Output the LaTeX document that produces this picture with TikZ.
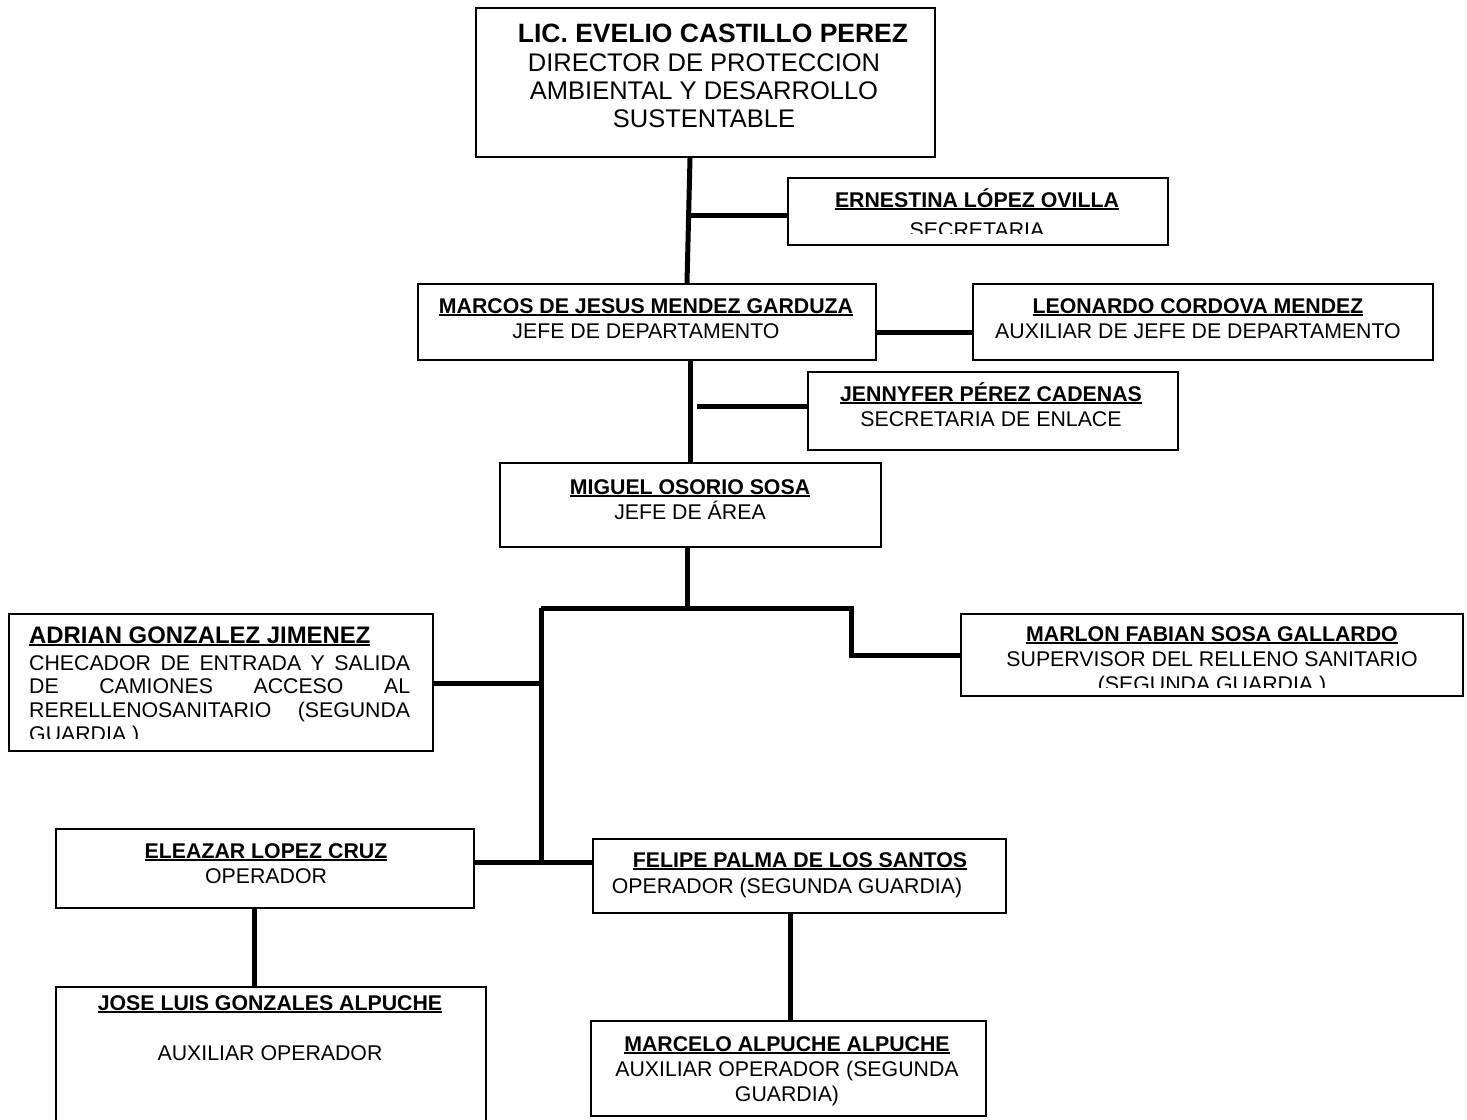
\documentclass[tikz,border=0pt]{standalone}
\usepackage{fontspec}
\setmainfont{Liberation Sans}
\usetikzlibrary{calc}
\newcommand\myul[1]{\leavevmode\setbox0\hbox{#1}\rlap{\rule[-3pt]{\wd0}{2pt}}\box0}
\newcommand\bodyfnt{\fontsize{21.3}{25}\selectfont}
\newcommand\bigfnt{\fontsize{25.5}{28}\selectfont}
\newcommand\titlefnt{\fontsize{26.5}{30}\selectfont\bfseries}
\newcommand\adrfnt{\fontsize{23.9}{28}\selectfont\bfseries}
\begin{document}
\begin{tikzpicture}[x=1pt,y=-1pt,
  box/.style={draw, line width=2pt, inner sep=0pt, anchor=north west},
  conn/.style={line width=5pt},
  lbl/.style={anchor=base, inner sep=0pt, font=\bodyfnt},
  nmlbl/.style={anchor=base, inner sep=0pt, font=\bodyfnt\bfseries},
  lbll/.style={anchor=base west, inner sep=0pt, font=\bodyfnt}]
\useasboundingbox (0,0) rectangle (1467,1119);
\fill[white] (0,0) rectangle (1467,1119);

% boxes
\node[box, minimum width=459pt, minimum height=149pt] (top) at (475,7) {};
\node[box, minimum width=380pt, minimum height=67pt] (ern) at (787,177) {};
\node[box, minimum width=458pt, minimum height=76pt] (marcos) at (417,283) {};
\node[box, minimum width=460pt, minimum height=76pt] (leo) at (972,283) {};
\node[box, minimum width=370pt, minimum height=78pt] (jen) at (807,371) {};
\node[box, minimum width=381pt, minimum height=84pt] (mig) at (499,462) {};
\node[box, minimum width=424pt, minimum height=137pt] (adr) at (8,613) {};
\node[box, minimum width=502pt, minimum height=82pt] (mar) at (960,613) {};
\node[box, minimum width=418pt, minimum height=79pt] (ele) at (55,828) {};
\node[box, minimum width=413pt, minimum height=74pt] (fel) at (592,838) {};
\node[box, minimum width=430pt, minimum height=170pt] (jose) at (55,986) {};
\node[box, minimum width=395pt, minimum height=95pt] (marc) at (590,1020) {};

% texts
\node[anchor=base, inner sep=0pt, font=\titlefnt] (t1) at (713,42.5) {LIC. EVELIO CASTILLO PEREZ};
\node[anchor=base, inner sep=0pt, font=\bigfnt] (t2) at (704,71) {DIRECTOR DE PROTECCION};
\node[anchor=base, inner sep=0pt, font=\bigfnt] (t3) at (704,99) {AMBIENTAL Y DESARROLLO};
\node[anchor=base, inner sep=0pt, font=\bigfnt] (t4) at (704,127) {SUSTENTABLE};

\node[nmlbl] (ern1) at (977,207) {\myul{ERNESTINA LÓPEZ OVILLA}};
\begin{scope}
  \clip (787,177) rectangle (1167,233);
  \node[lbl] (ern2) at (977,237) {SECRETARIA};
\end{scope}

\node[nmlbl] (mar1) at (646,313) {\myul{MARCOS DE JESUS MENDEZ GARDUZA}};
\node[lbl] (mar2) at (646,338) {JEFE DE DEPARTAMENTO};

\node[nmlbl] (leo1) at (1198,313) {\myul{LEONARDO CORDOVA MENDEZ}};
\node[lbl] (leo2) at (1198,338) {AUXILIAR DE JEFE DE DEPARTAMENTO};

\node[nmlbl] (jen1) at (991,401) {\myul{JENNYFER PÉREZ CADENAS}};
\node[lbl] (jen2) at (991,426) {SECRETARIA DE ENLACE};

\node[nmlbl] (mig1) at (690,494) {\myul{MIGUEL OSORIO SOSA}};
\node[lbl] (mig2) at (690,519) {JEFE DE ÁREA};

\node[anchor=base west, inner sep=0pt, font=\adrfnt] (adr1) at (29,643) {\myul{ADRIAN GONZALEZ JIMENEZ}};
\node[lbll] (adr2) at (29,670) {\makebox[381pt][s]{CHECADOR DE ENTRADA Y SALIDA}};
\node[lbll] (adr3) at (29,693.5) {\makebox[381pt][s]{DE CAMIONES ACCESO AL}};
\node[lbll] (adr4) at (29,717) {\makebox[381pt][s]{RERELLENOSANITARIO (SEGUNDA}};
\begin{scope}
  \clip (8,613) rectangle (432,738);
  \node[lbll] (adr5) at (29,741) {GUARDIA )};
\end{scope}

\node[nmlbl] (mrl1) at (1212,641) {\myul{MARLON FABIAN SOSA GALLARDO}};
\node[lbl] (mrl2) at (1212,666) {SUPERVISOR DEL RELLENO SANITARIO};
\begin{scope}
  \clip (960,613) rectangle (1462,687);
  \node[lbl] (mrl3) at (1212,691) {(SEGUNDA GUARDIA )};
\end{scope}

\node[nmlbl] (ele1) at (266,858) {\myul{ELEAZAR LOPEZ CRUZ}};
\node[lbl] (ele2) at (266,883) {OPERADOR};

\node[nmlbl] (fel1) at (800,867) {\myul{FELIPE PALMA DE LOS SANTOS}};
\node[lbl] (fel2) at (787,893) {OPERADOR (SEGUNDA GUARDIA)};

\node[nmlbl] (jos1) at (270,1010) {\myul{JOSE LUIS GONZALES ALPUCHE}};
\node[lbl] (jos2) at (270,1060) {AUXILIAR OPERADOR};

\node[nmlbl] (mcl1) at (787,1051) {\myul{MARCELO ALPUCHE ALPUCHE}};
\node[lbl] (mcl2) at (787,1076) {AUXILIAR OPERADOR (SEGUNDA};
\node[lbl] (mcl3) at (787,1101) {GUARDIA)};

% connectors
\coordinate (j1) at ($(top.south west)+(215,0)$);
\coordinate (j2) at ($(marcos.north west)+(270,0)$);
\draw[conn] (j1) -- (j2);
\coordinate (je) at (690,215);
\draw[conn] (je) -- (je -| ern.west);
\draw[conn] ($(marcos.east)+(0,10)$) -- ($(leo.west)+(0,10)$);
\coordinate (j3) at ($(marcos.south west)+(273,0)$);
\coordinate (j4) at ($(mig.north west)+(191,0)$);
\draw[conn] (j3) -- (j4);
\coordinate (jj) at (697,406);
\draw[conn] (jj) -- (jj -| jen.west);
\coordinate (j5) at ($(mig.south west)+(188,0)$);
\coordinate (bus) at (687,608);
\draw[conn] (j5) -- (bus);
\coordinate (busl) at (541,608);
\coordinate (busr) at (851,608);
\coordinate (bend) at (851,655);
\draw[conn] (busl) -- (busr) -- (bend) -- (bend -| mar.west);
\coordinate (busb) at (541,862);
\draw[conn] (busl) -- (busb);
\coordinate (ja) at (541,683);
\draw[conn] (ja -| adr.east) -- (ja);
\draw[conn] (busb -| ele.east) -- (busb -| fel.west);
\draw[conn] ($(ele.south west)+(199,0)$) -- ($(jose.north west)+(199,0)$);
\draw[conn] ($(fel.south west)+(198,0)$) -- ($(marc.north west)+(200,0)$);
\end{tikzpicture}
\end{document}
